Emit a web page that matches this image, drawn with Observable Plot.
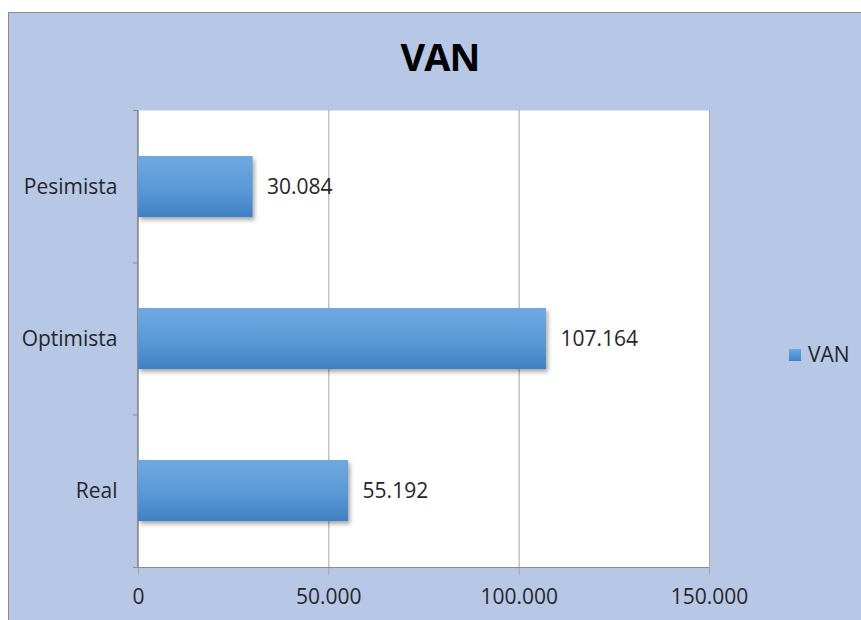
<!DOCTYPE html>
<html><head><meta charset="utf-8">
<script src="https://cdn.jsdelivr.net/npm/d3@7"></script>
<script src="https://cdn.jsdelivr.net/npm/@observablehq/plot@0.6"></script>
<style>
body{margin:0;background:#fff;font-family:"Open Sans",sans-serif;}
#wrap{position:relative;width:861px;height:620px;overflow:hidden;}
#bg{position:absolute;left:8px;top:12px;right:0;bottom:0;background:#B6C8E6;border-left:1px solid #8a8a8a;border-top:1px solid #8a8a8a;}
#title{position:absolute;left:0;width:880px;top:37px;text-align:center;font-weight:700;font-size:38px;line-height:1;color:#000;letter-spacing:-1px;}
#chart{position:absolute;left:0;top:0;}
#legend{position:absolute;left:789px;top:344px;font-size:21px;line-height:1;color:#262626;display:flex;align-items:center;}
#legend .sw{width:12px;height:12px;background:linear-gradient(#6FA8E0,#4283C6);margin-right:7px;}
g[aria-label="bar"] rect{filter:drop-shadow(2px 3px 2px rgba(0,0,0,0.35));}
</style>
</head><body>
<div id="wrap">
  <div id="bg"></div>
  <div id="title">VAN</div>
  <div id="chart"></div>
  <div id="legend"><div class="sw"></div><span>VAN</span></div>
</div>
<script>
const categories = ["Pesimista", "Optimista", "Real"];
const values = [30084, 107164, 55192];
const xTicks = [0, 50000, 100000, 150000];
const seriesName = "VAN";

const fmt = d3.formatLocale({decimal: ",", thousands: ".", grouping: [3], currency: ["", ""]}).format(",.0f");
const data = categories.map((c, i) => ({cat: c, value: values[i], series: seriesName}));

const plot = Plot.plot({
  width: 861, height: 620,
  marginLeft: 138, marginRight: 152, marginTop: 110, marginBottom: 53,
  style: {background: "transparent", fontFamily: "'Open Sans', sans-serif", fontSize: "21px", color: "#262626", overflow: "visible"},
  x: {domain: [0, 150000], label: null},
  y: {domain: categories, paddingInner: 0.6, paddingOuter: 0.3, label: null},
  marks: [
    Plot.frame({fill: "white", stroke: "none"}),
    Plot.gridX(xTicks, {stroke: "#A6A6A6", strokeOpacity: 1}),
    Plot.barX(data, {x: "value", y: "cat", fill: "url(#barGrad)"}),
    Plot.text(data, {x: "value", y: "cat", text: d => fmt(d.value), textAnchor: "start", dx: 14, fill: "#262626"}),
    Plot.axisX(xTicks, {tickSize: 8, tickPadding: 14, tickFormat: fmt, stroke: "#A6A6A6", fill: "#262626", label: null}),
    Plot.axisY({tickSize: 0, tickPadding: 21, label: null, fill: "#262626"})
  ]
});

const svg = d3.select(plot);
svg.insert("defs", ":first-child").html(
  '<linearGradient id="barGrad" x1="0" y1="0" x2="0" y2="1">' +
  '<stop offset="0" stop-color="#70A8E0"/><stop offset="0.5" stop-color="#5B9BD8"/><stop offset="1" stop-color="#4081C5"/></linearGradient>'
);

// axis lines and category boundary ticks derived from the scales
const xs = plot.scale("x"), ys = plot.scale("y");
const x0 = xs.apply(0), x1 = xs.apply(150000);
const bw = ys.bandwidth;
const centers = categories.map(c => ys.apply(c) + bw / 2);
const r = ys.range;
const bounds = [r[0]];
for (let i = 0; i < centers.length - 1; i++) bounds.push((centers[i] + centers[i + 1]) / 2);
bounds.push(r[1]);
const g = svg.append("g").attr("stroke", "#8C8C8C").attr("stroke-width", 1);
g.append("line").attr("x1", x0 - 0.5).attr("x2", x0 - 0.5).attr("y1", r[0]).attr("y2", r[1]);
g.append("line").attr("x1", x0 - 5).attr("x2", x1).attr("y1", r[1] + 0.5).attr("y2", r[1] + 0.5);
bounds.forEach(b => g.append("line").attr("x1", x0 - 5).attr("x2", x0).attr("y1", b + 0.5).attr("y2", b + 0.5));

document.getElementById("chart").appendChild(plot);
</script>
</body></html>
